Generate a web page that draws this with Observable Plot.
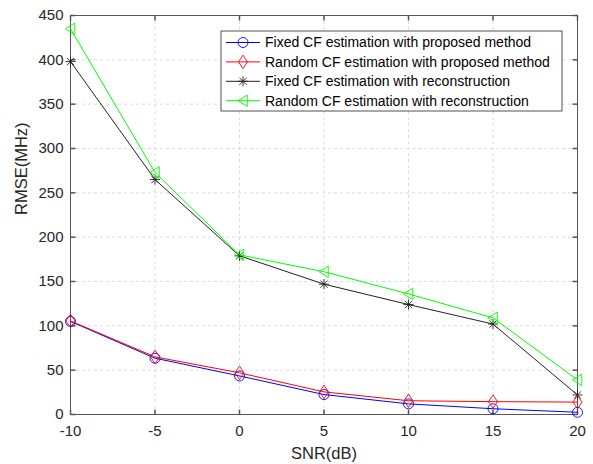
<!DOCTYPE html>
<html>
<head>
<meta charset="utf-8">
<script src="https://cdn.jsdelivr.net/npm/d3@7"></script>
<script src="https://cdn.jsdelivr.net/npm/@observablehq/plot@0.6"></script>
<style>
  body { margin: 0; background: #fff; }
  #chart { width: 593px; height: 464px; }
  #chart svg { font-family: "Liberation Sans", Arial, Helvetica, sans-serif; }
</style>
</head>
<body>
<div id="chart"></div>
<script>
// SNR sweep (dB)
const snr = [-10, -5, 0, 5, 10, 15, 20];

// RMSE (MHz) per method
const fixedProposed  = [105, 63.5, 43.5, 22.5, 12, 6.5, 2.5];
const randomProposed = [105.5, 65, 47, 25.5, 15.5, 14.5, 14];
const fixedRecon     = [398, 265, 179, 147, 124, 102, 22];
const randomRecon    = [435, 273, 180, 161, 136, 109, 39];

const seriesNames = [
  "Fixed CF estimation with proposed method",
  "Random CF estimation with proposed method",
  "Fixed CF estimation with reconstruction",
  "Random CF estimation with reconstruction"
];
const seriesColors = ["#0000ff", "#ff0000", "#222222", "#00ff00"];

const xTicks = [-10, -5, 0, 5, 10, 15, 20];
const yTicks = [0, 50, 100, 150, 200, 250, 300, 350, 400, 450];

// Open marker shapes (size is the symbol area, as Plot passes r*r*PI)
const rad = size => Math.sqrt(size / Math.PI);
const circleSym = { draw(c, size) { const r = rad(size); c.moveTo(r, 0); c.arc(0, 0, r, 0, 2 * Math.PI); } };
const diamondSym = { draw(c, size) { const r = rad(size); const h = r * 1.35, w = r * 0.9;
  c.moveTo(0, -h); c.lineTo(w, 0); c.lineTo(0, h); c.lineTo(-w, 0); c.closePath(); } };
const asteriskSym = { draw(c, size) { const r = rad(size); const d = r * 0.72;
  c.moveTo(0, -r); c.lineTo(0, r); c.moveTo(-r, 0); c.lineTo(r, 0);
  c.moveTo(-d, -d); c.lineTo(d, d); c.moveTo(-d, d); c.lineTo(d, -d); } };
const leftTriSym = { draw(c, size) { const r = rad(size);
  c.moveTo(-r, 0); c.lineTo(r * 0.85, -r * 1.15); c.lineTo(r * 0.85, r * 1.15); c.closePath(); } };
const seriesSymbols = [circleSym, diamondSym, asteriskSym, leftTriSym];

// Inward tick marks, 5px long, pointing into the axes box
const tickLen = 5;
const tickUp    = { draw(c) { c.moveTo(0, 0); c.lineTo(0, -tickLen); } };
const tickDown  = { draw(c) { c.moveTo(0, 0); c.lineTo(0, tickLen); } };
const tickRight = { draw(c) { c.moveTo(0, 0); c.lineTo(tickLen, 0); } };
const tickLeft  = { draw(c) { c.moveTo(0, 0); c.lineTo(-tickLen, 0); } };

const seriesValues = [fixedProposed, randomProposed, fixedRecon, randomRecon];
const rows = seriesValues.map((vals, i) => snr.map((s, j) => ({ snr: s, rmse: vals[j], k: i })));

const axisColor = "#262626";
const tickColor = "#555555";
const gridStyle = { stroke: "#dcdcdc", strokeOpacity: 1, strokeDasharray: "3,3" };
const fmt = d => String(d);

const marks = [
  Plot.gridX(xTicks, gridStyle),
  Plot.gridY(yTicks, gridStyle),
  Plot.axisX(xTicks, { anchor: "bottom", tickSize: 0, tickPadding: 11, tickFormat: fmt, fontSize: 15, color: axisColor, label: null }),
  Plot.axisY(yTicks, { anchor: "left", tickSize: 0, tickPadding: 7, tickFormat: fmt, fontSize: 15, color: axisColor, label: null }),
  Plot.dot(xTicks, { x: d => d, frameAnchor: "bottom", symbol: tickUp, stroke: tickColor, r: 1 }),
  Plot.dot(xTicks, { x: d => d, frameAnchor: "top", symbol: tickDown, stroke: tickColor, r: 1 }),
  Plot.dot(yTicks, { y: d => d, frameAnchor: "left", symbol: tickRight, stroke: tickColor, r: 1 }),
  Plot.dot(yTicks, { y: d => d, frameAnchor: "right", symbol: tickLeft, stroke: tickColor, r: 1 }),
  Plot.frame({ stroke: tickColor }),
  Plot.text(["SNR(dB)"], { frameAnchor: "bottom", lineAnchor: "middle", dy: 39, fontSize: 16.5, fill: axisColor }),
  Plot.text(["RMSE(MHz)"], { frameAnchor: "left", dx: -48.5, rotate: -90, fontSize: 16.5, fill: axisColor })
];
rows.forEach((data, i) => {
  marks.push(Plot.line(data, { x: "snr", y: "rmse", stroke: seriesColors[i], strokeWidth: 1 }));
  marks.push(Plot.dot(data, { x: "snr", y: "rmse", symbol: seriesSymbols[i], r: 5, stroke: seriesColors[i], fill: "none", strokeWidth: 0.9 }));
});

const chart = Plot.plot({
  width: 593,
  height: 464,
  marginLeft: 70,
  marginRight: 16,
  marginTop: 15,
  marginBottom: 50,
  x: { domain: [-10, 20] },
  y: { domain: [0, 450] },
  style: { fontFamily: "\"Liberation Sans\", Arial, Helvetica, sans-serif", background: "#fff" },
  marks
});
document.getElementById("chart").append(chart);

// Legend box in the upper right of the axes
const svg = d3.select(chart);
const lg = svg.append("g").attr("transform", "translate(221,31)");
lg.append("rect").attr("width", 341).attr("height", 80)
  .attr("fill", "#fff").attr("stroke", "#262626").attr("stroke-width", 0.8);
seriesNames.forEach((name, i) => {
  const y = 11.5 + i * 19.4;
  const row = lg.append("g").attr("transform", `translate(0,${y})`);
  row.append("line").attr("x1", 5).attr("x2", 39).attr("y1", 0).attr("y2", 0)
    .attr("stroke", seriesColors[i]).attr("stroke-width", 1);
  row.append("path").attr("transform", "translate(22,0)")
    .attr("d", d3.symbol(seriesSymbols[i], 25 * Math.PI)())
    .attr("fill", "none").attr("stroke", seriesColors[i]).attr("stroke-width", 0.9);
  row.append("text").attr("x", 44).attr("y", 0).attr("dy", "0.35em")
    .attr("text-anchor", "start").attr("font-size", 14).attr("fill", "#000").text(name);
});
</script>
</body>
</html>
